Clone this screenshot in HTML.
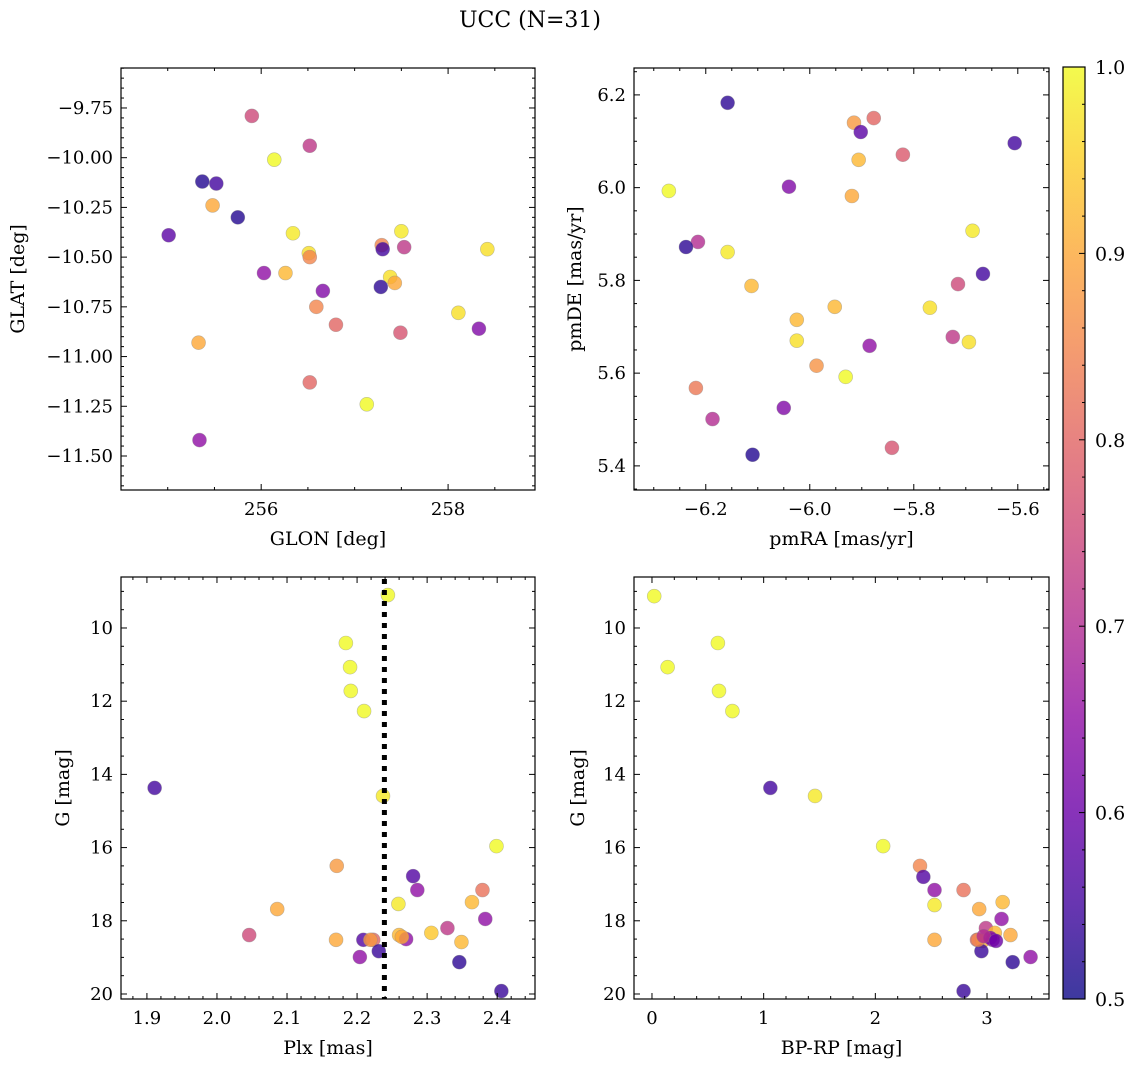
<!DOCTYPE html>
<html><head><meta charset="utf-8">
<style>
html,body{margin:0;padding:0;background:#fff;}
svg{display:block;font-family:"DejaVu Serif","Liberation Serif",serif;}
</style></head>
<body>
<svg id="fig" width="1136" height="1067" viewBox="0 0 1136 1067" xmlns="http://www.w3.org/2000/svg">
<text x="530" y="27" font-size="22" text-anchor="middle">UCC (N=31)</text>
</svg>
<script>
// ---- data (top-level arrays) ----
const glon = [255.90,256.14,256.52,255.37,255.52,255.48,255.75,255.01,256.34,257.50,257.29,257.30,257.53,256.51,256.52,256.03,256.26,257.38,257.43,256.66,257.28,256.59,258.11,256.80,258.33,257.49,255.33,256.52,257.13,255.34,258.42];
const glat = [-9.79,-10.01,-9.94,-10.12,-10.13,-10.24,-10.30,-10.39,-10.38,-10.37,-10.44,-10.46,-10.45,-10.48,-10.50,-10.58,-10.58,-10.60,-10.63,-10.67,-10.65,-10.75,-10.78,-10.84,-10.86,-10.88,-10.93,-11.13,-11.24,-11.42,-10.46];
const probTL = [0.75,1.0,0.72,0.52,0.55,0.9,0.52,0.58,0.98,0.98,0.85,0.55,0.72,0.97,0.85,0.65,0.92,0.97,0.9,0.63,0.53,0.85,0.97,0.8,0.63,0.77,0.9,0.8,1.0,0.65,0.97];

const pmra = [-6.158,-5.877,-5.915,-5.902,-5.821,-5.906,-5.606,-6.271,-6.040,-5.919,-6.215,-6.238,-5.687,-6.158,-5.667,-5.715,-6.112,-5.952,-5.769,-6.025,-6.025,-5.725,-5.694,-5.885,-5.987,-5.931,-6.219,-6.050,-6.187,-5.842,-6.110];
const pmde = [6.183,6.150,6.140,6.120,6.071,6.060,6.096,5.993,6.002,5.982,5.883,5.872,5.907,5.861,5.814,5.792,5.788,5.743,5.741,5.715,5.670,5.678,5.667,5.659,5.616,5.592,5.568,5.525,5.501,5.439,5.424];
const probTR = [0.53,0.8,0.88,0.58,0.78,0.92,0.55,1.0,0.63,0.9,0.7,0.53,0.98,0.98,0.55,0.75,0.92,0.92,0.97,0.92,0.97,0.72,0.97,0.65,0.87,1.0,0.83,0.63,0.7,0.77,0.52];

const plx = [2.399,2.171,2.280,2.286,2.086,2.259,2.379,2.364,2.383,2.046,2.170,2.209,2.223,2.260,2.270,2.306,2.329,2.349,2.204,2.231,2.346,2.406,2.244,2.184,2.190,2.191,2.210,1.911,2.237,2.219,2.264];
const gmagBL = [15.96,16.50,16.78,17.16,17.68,17.54,17.16,17.49,17.95,18.39,18.52,18.52,18.52,18.39,18.50,18.33,18.20,18.58,18.99,18.83,19.13,19.92,9.10,10.41,11.07,11.72,12.27,14.37,14.59,18.52,18.44];
const probBL = [1.0,0.88,0.57,0.65,0.9,0.98,0.82,0.92,0.65,0.75,0.9,0.57,0.8,0.92,0.65,0.94,0.72,0.92,0.65,0.54,0.53,0.54,1.0,1.0,1.0,1.0,1.0,0.55,0.98,0.88,0.9];
const plxLine = 2.239;

const bprp = [2.07,2.40,2.43,2.53,2.79,2.53,3.14,2.93,3.13,2.99,3.07,3.21,2.53,2.91,2.96,3.05,2.95,3.23,3.39,2.79,0.02,0.59,0.14,0.60,0.72,1.06,1.46,2.92,3.03,2.97,3.08];
const gmagBR = [15.96,16.50,16.80,17.16,17.16,17.57,17.49,17.68,17.95,18.20,18.33,18.39,18.52,18.52,18.55,18.52,18.83,19.13,18.99,19.92,9.13,10.41,11.07,11.72,12.27,14.37,14.59,18.52,18.47,18.42,18.55];
const probBR = [1.0,0.85,0.57,0.65,0.82,0.98,0.92,0.9,0.65,0.72,0.92,0.9,0.9,0.8,0.9,0.65,0.54,0.53,0.65,0.54,1.0,1.0,1.0,1.0,1.0,0.55,0.98,0.85,0.63,0.7,0.6];

const cbTicks = [0.5,0.6,0.7,0.8,0.9,1.0];
const cbLabels = ["0.5","0.6","0.7","0.8","0.9","1.0"];

// ---- helpers ----
const NS = "http://www.w3.org/2000/svg";
const fig = document.getElementById('fig');
function mk(tag, attrs, parent){ const e=document.createElementNS(NS,tag); for(const k in attrs) e.setAttribute(k,attrs[k]); (parent||fig).appendChild(e); return e; }
const plasmaStops = [[0,'#0d0887'],[0.1,'#41049d'],[0.2,'#6a00a8'],[0.3,'#8f0da4'],[0.4,'#b12a90'],[0.5,'#cc4778'],[0.6,'#e16462'],[0.7,'#f2844b'],[0.8,'#fca636'],[0.9,'#fcce25'],[1,'#f0f921']];
function hex(h){return [parseInt(h.substr(1,2),16),parseInt(h.substr(3,2),16),parseInt(h.substr(5,2),16)];}
function plasma(v){ let t=Math.max(0,Math.min(1,(v-0.5)/0.5));
  for(let i=0;i<plasmaStops.length-1;i++){ const a=plasmaStops[i],b=plasmaStops[i+1];
    if(t<=b[0]){ const f=(t-a[0])/(b[0]-a[0]); const ca=hex(a[1]),cb=hex(b[1]);
      return 'rgb('+ca.map((c,j)=>Math.round(c+(cb[j]-c)*f)).join(',')+')'; } }
  return plasmaStops[plasmaStops.length-1][1]; }

function panel(name, box, xr, yr, xmaj, xmin, ymaj, ymin, xdec, ydec, xlabel, ylabel, ylabX, xs, ys, ps){
  const [L,T,R,B]=box;
  const g = mk('g',{});  
  const sx = v => L+(v-xr[0])/(xr[1]-xr[0])*(R-L);
  const sy = v => T+(v-yr[0])/(yr[1]-yr[0])*(B-T);
  const ylo=Math.min(yr[0],yr[1]), yhi=Math.max(yr[0],yr[1]);
  const pg = mk('g',{},g);  
  for(let i=0;i<xs.length;i++){
    const c = mk('circle',{cx:sx(xs[i]),cy:sy(ys[i]),r:7,fill:plasma(ps[i]),'fill-opacity':0.8,stroke:'#888','stroke-opacity':0.5,'stroke-width':0.6},pg);
    
    
  }
  const fr = mk('rect',{x:L,y:T,width:R-L,height:B-T,fill:'none',stroke:'#000','stroke-width':1.2},g);
   
  const eps=1e-9;
  const x0=Math.ceil((xr[0]-eps)/xmin)*xmin;
  for(let v=x0; v<=xr[1]+eps; v+=xmin){
    const k=Math.round(v/xmin*1000)/1000; const vv=k*xmin;
    const isMaj = Math.abs(vv/xmaj-Math.round(vv/xmaj))<1e-6;
    const len=isMaj?6:3, x=sx(vv);
    mk('line',{x1:x,y1:B,x2:x,y2:B-len,stroke:'#000','stroke-width':1},g);
    mk('line',{x1:x,y1:T,x2:x,y2:T+len,stroke:'#000','stroke-width':1},g);
    if(isMaj){ const t=mk('text',{x:x,y:B+25,'font-size':18,'text-anchor':'middle'},g);
      t.textContent=(Math.abs(vv)<1e-9?0:vv).toFixed(xdec).replace('-','−');
        }
  }
  const y0=Math.ceil((ylo-eps)/ymin)*ymin;
  for(let v=y0; v<=yhi+eps; v+=ymin){
    const k=Math.round(v/ymin*1000)/1000; const vv=k*ymin;
    const isMaj = Math.abs(vv/ymaj-Math.round(vv/ymaj))<1e-6;
    const len=isMaj?6:3, y=sy(vv);
    mk('line',{x1:L,y1:y,x2:L+len,y2:y,stroke:'#000','stroke-width':1},g);
    mk('line',{x1:R,y1:y,x2:R-len,y2:y,stroke:'#000','stroke-width':1},g);
    if(isMaj){ const t=mk('text',{x:L-8,y:y+6,'font-size':18,'text-anchor':'end'},g);
      t.textContent=vv.toFixed(ydec).replace('-','−');
        }
  }
  const xl=mk('text',{x:(L+R)/2,y:B+55,'font-size':19,'text-anchor':'middle'},g); xl.textContent=xlabel;
   
  const yc=(T+B)/2;
  const yl=mk('text',{x:ylabX,y:yc,'font-size':19,'text-anchor':'middle',transform:'rotate(-90 '+ylabX+' '+yc+')'},g); yl.textContent=ylabel;
   
  return {sx,sy,g};
}

panel('glon-glat-panel',[121,68,535,490],[254.50,258.93],[-9.549,-11.671],2,0.5,0.25,0.05,0,2,'GLON [deg]','GLAT [deg]',24,glon,glat,probTL);
panel('pm-panel',[634,68,1049,490],[-6.338,-5.540],[6.258,5.348],0.2,0.05,0.2,0.05,1,1,'pmRA [mas/yr]','pmDE [mas/yr]',581,pmra,pmde,probTR);
const bl = panel('plx-g-panel',[121,577,535,999],[1.863,2.454],[8.607,20.137],0.1,0.02,2,0.5,1,0,'Plx [mas]','G [mag]',69,plx,gmagBL,probBL);
panel('cmd-panel',[634,577,1049,999],[-0.161,3.555],[8.607,20.137],1,0.2,2,0.5,0,0,'BP-RP [mag]','G [mag]',584,bprp,gmagBR,probBR);

const pl = mk('line',{x1:bl.sx(plxLine),y1:579,x2:bl.sx(plxLine),y2:999,stroke:'#000','stroke-width':5,'stroke-dasharray':'5 6'},bl.g);



const defs = mk('defs',{});
const grad = mk('linearGradient',{id:'cbg',x1:0,y1:1,x2:0,y2:0},defs);
plasmaStops.forEach(s=>mk('stop',{offset:s[0],'stop-color':s[1]},grad));
const cbL=1063,cbR=1085,cbT=67,cbB=999;
const cb = mk('g',{});  
mk('rect',{x:cbL,y:cbT,width:cbR-cbL,height:cbB-cbT,fill:'url(#cbg)','fill-opacity':0.8},cb);
mk('rect',{x:cbL,y:cbT,width:cbR-cbL,height:cbB-cbT,fill:'none',stroke:'#000','stroke-width':1.2},cb);
const cy = v => cbB-(v-0.5)/0.5*(cbB-cbT);
for(let k=0;k<=25;k++){ const v=0.5+k*0.02; const maj=(k%5===0); const y=cy(v);
  mk('line',{x1:cbR,y1:y,x2:cbR-(maj?6:3),y2:y,stroke:'#000','stroke-width':1},cb); }
cbTicks.forEach((v,i)=>{ const t=mk('text',{x:1095,y:cy(v)+7,'font-size':19},cb); t.textContent=cbLabels[i];
    });
</script>
</body></html>
